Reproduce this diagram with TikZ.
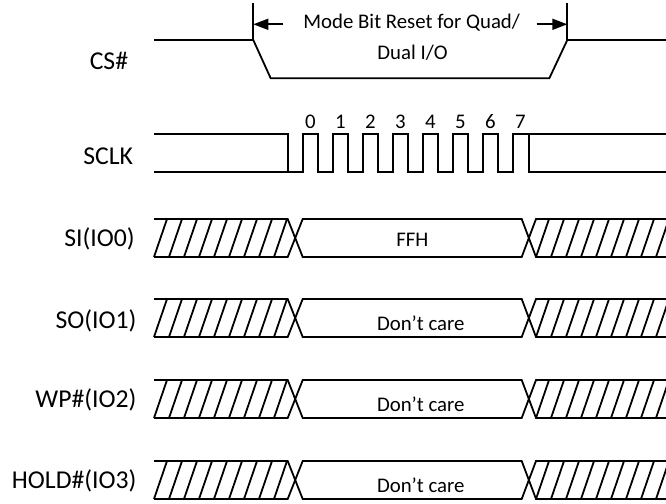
\documentclass[tikz,border=0pt]{standalone}
\usepackage{fontspec}
\setmainfont{Carlito}
\usetikzlibrary{arrows.meta}
\begin{document}
\begin{tikzpicture}[x=1pt,y=-1pt,
  sig/.style={line width=1.8pt, line join=miter},
  lbl/.style={font=\fontsize{25.7}{30}\selectfont, anchor=base east, inner sep=0pt},
  dat/.style={font=\fontsize{20.8}{25}\selectfont, anchor=base, inner sep=0pt},
  dim/.style={line width=1.6pt, -{Triangle[length=15pt,width=11pt]}}]
\useasboundingbox (0,0) rectangle (666,503);
% signal labels
\node[lbl] (lcs)   at (128.3,69.3)  {CS\#};
\node[lbl] (lclk)  at (133.3,164.3) {SCLK};
\node[lbl] (lsi)   at (135,246.7)   {SI(IO0)};
\node[lbl] (lso)   at (136.7,328.3) {SO(IO1)};
\node[lbl] (lwp)   at (136.7,407.3) {WP\#(IO2)};
\node[lbl] (lhold) at (136.7,488.3) {HOLD\#(IO3)};
% CS#
\coordinate (csA) at (253.3,40);
\coordinate (csB) at (567.3,40);
\coordinate (csAt) at (253.3,3.3);
\coordinate (csBt) at (567.3,3.3);
\draw[sig] (154,40) -- (csA) -- (270.7,78.3) -- (549.3,78.3) -- (csB) -- (666,40);
\draw[sig] (csAt) -- (csA);
\draw[sig] (csBt) -- (csB);
\coordinate (arL) at (253.3,24.3);
\coordinate (arR) at (567.3,24.3);
\coordinate (arLs) at (283.3,24.3);
\coordinate (arRs) at (536.7,24.3);
\draw[dim] (arLs) -- (arL);
\draw[dim] (arRs) -- (arR);
\node[dat] (t1) at (411.7,28.3) {Mode Bit Reset for Quad/};
\node[dat] (t2) at (412.5,59.3) {Dual I/O};
% SCLK
\draw[sig] (154,134) -- (287.7,134) -- (287.7,172);
\draw[sig] (154,172) \foreach \i in {0,...,6}{ -- ({302.7+30*\i},172) -- ({302.7+30*\i},134) -- ({318.3+30*\i},134) -- ({318.3+30*\i},172)} -- (512.7,172) -- (512.7,134) -- (666,134);
\draw[sig] (529.3,134) -- (529.3,172) -- (666,172);
\foreach \i in {0,...,7} \node[dat] (n\i) at ({310.5+30*\i},128) {\i};
% data rows
\foreach \t/\txt/\tx/\off in {219/FFH/412.4/27, 299/Don’t care/420.8/31.5, 380/Don’t care/420.8/31.7, 461/Don’t care/420.8/31.5}{
  \pgfmathsetmacro\b{\t+38}
  \draw[sig] (154,\t) -- (287.7,\t) -- (302.7,\b) -- (521.7,\b) -- (536,\t) -- (666,\t);
  \draw[sig] (154,\b) -- (287.7,\b) -- (302.7,\t) -- (521.7,\t) -- (536,\b) -- (666,\b);
  \foreach \k in {0,...,8} \draw[sig] ({154+15*\k},\b) -- ({167+15*\k},\t);
  \begin{scope}
    \clip (536,{\t-2}) rectangle (666,{\b+2});
    \foreach \k in {0,...,8} \draw[sig] ({536+15*\k},\b) -- ({549+15*\k},\t);
  \end{scope}
  \node[dat] at (\tx,{\t+\off}) {\txt};
}
\end{tikzpicture}
\end{document}
